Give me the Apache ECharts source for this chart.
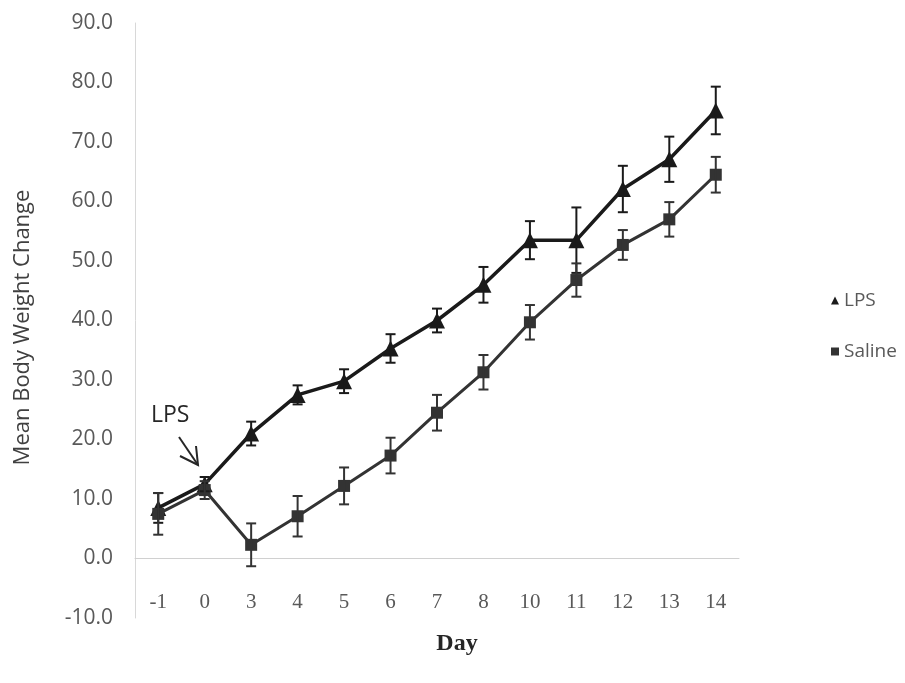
<!DOCTYPE html>
<html>
<head>
<meta charset="utf-8">
<title>Mean Body Weight Change</title>
<script src="https://cdn.jsdelivr.net/npm/echarts@6/dist/echarts.min.js"></script>
<style>
  html, body { margin: 0; padding: 0; background: #ffffff; }
  #chart { width: 905px; height: 683px; }
</style>
</head>
<body>
<div id="chart"></div>
<script>
// Study days (category axis)
const days = ['-1', '0', '3', '4', '5', '6', '7', '8', '10', '11', '12', '13', '14'];

// LPS group: mean body weight change and its error
const lpsMean = [8.5, 12.5, 21.0, 27.5, 29.8, 35.3, 40.0, 46.0, 53.5, 53.5, 62.1, 67.1, 75.3];
const lpsErr  = [2.5, 1.2, 2.0, 1.6, 2.0, 2.4, 2.0, 3.0, 3.2, 5.5, 3.9, 3.8, 4.0];

// Saline group: mean body weight change and its error
const salineMean = [7.5, 11.5, 2.3, 7.1, 12.2, 17.3, 24.5, 31.3, 39.7, 46.8, 52.7, 57.0, 64.5];
const salineErr  = [3.5, 1.5, 3.6, 3.4, 3.1, 3.0, 3.0, 2.9, 2.9, 2.8, 2.5, 2.9, 3.0];

// Y axis range and step
const yMin = -10, yMax = 90, yStep = 10;

const lpsColor = '#1a1a1a';
const salineColor = '#333333';

// [category index, low, high] triples for the error bars
function errorRows(mean, err) {
  return mean.map((m, i) => [i, m - err[i], m + err[i]]);
}

function renderErrorBar(color) {
  return function (params, api) {
    const x = api.value(0);
    const lo = api.coord([x, api.value(1)]);
    const hi = api.coord([x, api.value(2)]);
    const half = 5;
    const style = { stroke: color, lineWidth: 2 };
    return {
      type: 'group',
      children: [
        { type: 'line', shape: { x1: lo[0], y1: lo[1], x2: hi[0], y2: hi[1] }, style: style },
        { type: 'line', shape: { x1: hi[0] - half, y1: hi[1], x2: hi[0] + half, y2: hi[1] }, style: style },
        { type: 'line', shape: { x1: lo[0] - half, y1: lo[1], x2: lo[0] + half, y2: lo[1] }, style: style }
      ]
    };
  };
}

const chart = echarts.init(document.getElementById('chart'), null, { renderer: 'canvas' });

chart.setOption({
  animation: false,
  backgroundColor: '#ffffff',
  grid: {
    left: 135, right: 166, top: 23, bottom: 65,
    containLabel: false,
    outerBoundsMode: 'none'
  },
  legend: {
    orient: 'vertical',
    left: 826,
    top: 286,
    itemGap: 32,
    itemWidth: 8,
    itemHeight: 8,
    textStyle: { fontFamily: 'Open Sans', fontSize: 19, color: '#595959' },
    data: [
      { name: 'LPS', icon: 'triangle' },
      { name: 'Saline', icon: 'rect' }
    ]
  },
  xAxis: {
    type: 'category',
    data: days,
    boundaryGap: true,
    name: 'Day',
    nameLocation: 'middle',
    nameGap: 14,
    nameMoveOverlap: false,
    nameTextStyle: {
      fontFamily: 'Liberation Serif', fontWeight: 'bold', fontSize: 24,
      color: '#262626', padding: [0, 0, 0, 40]
    },
    axisLine: { onZero: true, lineStyle: { color: '#d0d0d0', width: 1 } },
    axisTick: { show: false },
    axisLabel: {
      margin: -26, fontFamily: 'Liberation Serif', fontSize: 21, color: '#595959'
    },
    splitLine: { show: false }
  },
  yAxis: {
    type: 'value',
    min: yMin,
    max: yMax,
    interval: yStep,
    name: 'Mean Body Weight Change',
    nameLocation: 'middle',
    nameGap: 101,
    nameRotate: 90,
    nameTextStyle: { fontFamily: 'Open Sans', fontSize: 22, color: '#404040', padding: [0, 14, 0, 0] },
    axisLine: { show: true, lineStyle: { color: '#d8d8d8', width: 1 } },
    axisTick: { show: false },
    axisLabel: {
      margin: 22, fontFamily: 'Open Sans', fontSize: 21, color: '#595959',
      formatter: v => v.toFixed(1)
    },
    splitLine: { show: false }
  },
  graphic: [
    {
      type: 'text',
      left: 151, top: 404,
      style: { text: 'LPS', fontFamily: 'Open Sans', fontSize: 23, fill: '#262626' }
    },
    {
      type: 'polyline',
      shape: { points: [[179, 437], [198, 465]] },
      style: { stroke: '#262626', lineWidth: 2, fill: null }
    },
    {
      type: 'polyline',
      shape: { points: [[196, 446], [198, 465], [180, 456]] },
      style: { stroke: '#262626', lineWidth: 2, fill: null }
    }
  ],
  series: [
    {
      name: 'LPS',
      type: 'line',
      data: lpsMean,
      symbol: 'triangle',
      symbolSize: 16,
      itemStyle: { color: lpsColor },
      lineStyle: { color: lpsColor, width: 3.5 },
      z: 3
    },
    {
      name: 'Saline',
      type: 'line',
      data: salineMean,
      symbol: 'rect',
      symbolSize: 12,
      itemStyle: { color: salineColor },
      lineStyle: { color: salineColor, width: 3 },
      z: 3
    },
    {
      name: 'LPS error',
      type: 'custom',
      data: errorRows(lpsMean, lpsErr),
      renderItem: renderErrorBar(lpsColor),
      encode: { x: 0, y: [1, 2] },
      z: 4
    },
    {
      name: 'Saline error',
      type: 'custom',
      data: errorRows(salineMean, salineErr),
      renderItem: renderErrorBar(salineColor),
      encode: { x: 0, y: [1, 2] },
      z: 4
    }
  ]
});
</script>
</body>
</html>
